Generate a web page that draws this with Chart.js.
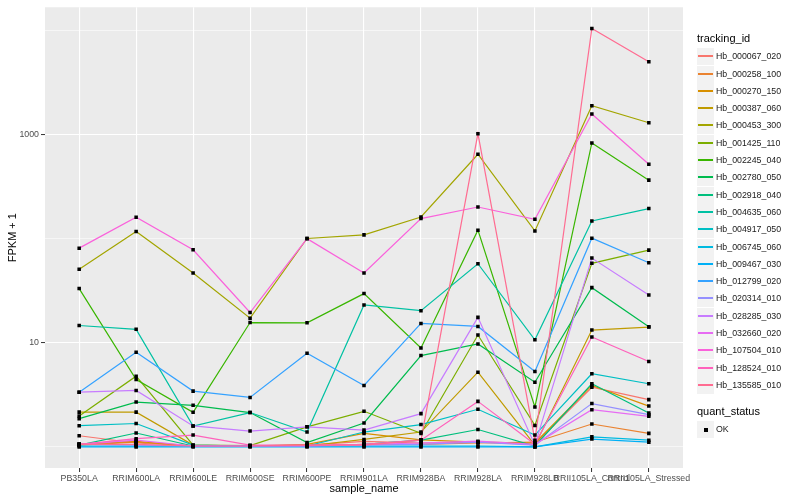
<!DOCTYPE html>
<html>
<head>
<meta charset="utf-8">
<script src="https://cdn.jsdelivr.net/npm/chart.js@4.4.0/dist/chart.umd.min.js"></script>
<style>
  body { margin: 0; background: #fff; }
  #wrap { position: relative; width: 800px; height: 500px; font-family: "Liberation Sans", Arial, sans-serif; }
  .ltitle { position: absolute; left: 697px; font-size: 11px; line-height: 13px; color: #000; white-space: nowrap; }
  .key { position: absolute; left: 697px; width: 17px; height: 17px; background: #F2F2F2; }
  .key i { position: absolute; left: 1px; width: 15px; top: 7px; height: 2px; }
  .key b { position: absolute; left: 7px; top: 7px; width: 4px; height: 4px; background: #000; }
  .lab { position: absolute; left: 716px; font-size: 8.8px; line-height: 11px; color: #1A1A1A; white-space: nowrap; }
</style>
</head>
<body>
<div id="wrap">
  <canvas id="chart" width="800" height="500"></canvas>
  <div id="legend"></div>
</div>
<script>
// categories on the x axis
var samples = ["PB350LA", "RRIM600LA", "RRIM600LE", "RRIM600SE", "RRIM600PE", "RRIM901LA",
               "RRIM928BA", "RRIM928LA", "RRIM928LB", "RRII105LA_Control", "RRII105LA_Stressed"];

var trackingIds = ["Hb_000067_020", "Hb_000258_100", "Hb_000270_150", "Hb_000387_060", "Hb_000453_300",
                   "Hb_001425_110", "Hb_002245_040", "Hb_002780_050", "Hb_002918_040", "Hb_004635_060",
                   "Hb_004917_050", "Hb_006745_060", "Hb_009467_030", "Hb_012799_020", "Hb_020314_010",
                   "Hb_028285_030", "Hb_032660_020", "Hb_107504_010", "Hb_128524_010", "Hb_135585_010"];

// ggplot default hue palette, 20 levels
var seriesColors = ["#F8766D", "#EA8331", "#D89000", "#C09B00", "#A3A500", "#7CAE00", "#39B600", "#00BB4E",
                    "#00BF7D", "#00C1A3", "#00BFC4", "#00BAE0", "#00B0F6", "#35A2FF", "#9590FF", "#C77CFF",
                    "#E76BF3", "#FA62DB", "#FF62BC", "#FF6C91"];

// FPKM + 1 per sample
var hb_000067_020 = [1.28, 1.09, 1.02, 1.02, 1.04, 1.13, 1.09, 1.11, 1.06, 3.75, 2.85];
var hb_000258_100 = [1.04, 1.11, 1.02, 1.02, 1.02, 1.06, 1.06, 1.09, 1.11, 1.66, 1.35];
var hb_000270_150 = [1.06, 1.13, 1.02, 1.02, 1.06, 1.35, 1.17, 1.11, 1.09, 3.9, 2.47];
var hb_000387_060 = [2.16, 2.16, 1.04, 1.02, 1.02, 1.18, 1.39, 5.23, 1.04, 13.3, 14.2];
var hb_000453_300 = [51.0, 117.8, 47.0, 17.3, 101.0, 109.3, 162.6, 651.5, 119.4, 1905, 1310];
var hb_001425_110 = [1.98, 4.79, 1.04, 1.03, 1.56, 2.2, 1.35, 11.9, 1.61, 58.2, 78.0];
var hb_002245_040 = [33.3, 4.45, 2.15, 15.7, 15.6, 29.8, 8.95, 121.3, 2.42, 837.5, 367.4];
var hb_002780_050 = [1.87, 2.7, 2.51, 2.14, 1.1, 1.7, 7.55, 9.77, 4.19, 34.0, 14.3];
var hb_002918_040 = [1.04, 1.36, 1.02, 1.02, 1.02, 1.06, 1.16, 1.47, 1.02, 4.05, 2.12];
var hb_004635_060 = [14.7, 13.5, 1.59, 2.14, 1.39, 23.2, 20.4, 57.7, 10.7, 148.8, 195.6];
var hb_004917_050 = [1.6, 1.68, 1.04, 1.02, 1.02, 1.39, 1.64, 2.3, 1.3, 5.05, 4.05];
var hb_006745_060 = [1.02, 1.02, 1.02, 1.02, 1.02, 1.02, 1.02, 1.02, 1.0, 1.25, 1.16];
var hb_009467_030 = [1.0, 1.0, 1.0, 1.0, 1.0, 1.0, 1.0, 1.0, 1.0, 1.19, 1.11];
var hb_012799_020 = [3.36, 8.12, 3.44, 2.99, 7.94, 3.9, 15.4, 14.4, 5.31, 101.7, 59.0];
var hb_020314_010 = [1.06, 1.04, 1.02, 1.02, 1.02, 1.04, 1.06, 1.11, 1.04, 2.61, 2.04];
var hb_028285_030 = [3.36, 3.49, 1.59, 1.42, 1.56, 1.45, 2.09, 17.6, 1.04, 65.4, 28.9];
var hb_032660_020 = [1.06, 1.16, 1.02, 1.02, 1.02, 1.06, 1.09, 1.135, 1.06, 2.28, 1.97];
var hb_107504_010 = [81.5, 161.5, 78.6, 19.6, 100.6, 47.0, 156.9, 202.6, 154.5, 1587, 522.6];
var hb_128524_010 = [1.06, 1.2, 1.3, 1.04, 1.04, 1.06, 1.16, 2.74, 1.06, 11.4, 6.62];
var hb_135585_010 = [1.06, 1.06, 1.02, 1.02, 1.04, 1.04, 1.16, 1028, 1.16, 10557, 5055];

var seriesValues = [hb_000067_020, hb_000258_100, hb_000270_150, hb_000387_060, hb_000453_300,
                    hb_001425_110, hb_002245_040, hb_002780_050, hb_002918_040, hb_004635_060,
                    hb_004917_050, hb_006745_060, hb_009467_030, hb_012799_020, hb_020314_010,
                    hb_028285_030, hb_032660_020, hb_107504_010, hb_128524_010, hb_135585_010];

// y gridlines (10 and 1000 are the labelled ones)
var yGridValues = [1, 10, 100, 1000, 10000];
var yLabelled = [10, 1000];

var datasets = [];
var allPoints = [];
for (var s = 0; s < seriesValues.length; s++) {
  var pts = [];
  for (var i = 0; i < samples.length; i++) {
    pts.push({ x: i, y: seriesValues[s][i] });
    allPoints.push({ x: i, y: seriesValues[s][i] });
  }
  datasets.push({
    label: trackingIds[s],
    data: pts,
    borderColor: seriesColors[s],
    borderWidth: 1.2,
    pointRadius: 0,
    fill: false,
    tension: 0,
    order: seriesValues.length - s
  });
}
// points on top of every line, like geom_point after geom_line
datasets.push({
  type: "scatter",
  label: "OK",
  data: allPoints,
  pointStyle: "rect",
  pointRadius: 2.5,
  backgroundColor: "#000",
  borderWidth: 0,
  order: -1
});

var panelBg = {
  id: "panelBg",
  beforeDraw: function(chart) {
    var a = chart.chartArea, c = chart.ctx;
    c.save();
    c.fillStyle = "#EBEBEB";
    c.fillRect(a.left, a.top, a.right - a.left, a.bottom - a.top);
    c.restore();
  }
};

var isMajor = function(ctx) { return ctx.tick && yLabelled.indexOf(ctx.tick.value) >= 0; };

new Chart(document.getElementById("chart"), {
  type: "line",
  data: { datasets: datasets },
  plugins: [panelBg],
  options: {
    responsive: false,
    animation: false,
    layout: { padding: { left: 0, right: 117, top: 5, bottom: 0 } },
    plugins: { legend: { display: false }, tooltip: { enabled: false } },
    scales: {
      x: {
        type: "linear",
        bounds: "data",
        min: -0.6,
        max: 10.6,
        afterBuildTicks: function(scale) {
          scale.ticks = samples.map(function(_, i) { return { value: i }; });
        },
        afterFit: function(scale) { scale.height = 32; },
        ticks: {
          autoSkip: false, maxRotation: 0, minRotation: 0, padding: 1,
          color: "#4D4D4D", font: { family: "Liberation Sans", size: 8.8 },
          callback: function(v) { return samples[v]; }
        },
        grid: { color: "#FFFFFF", lineWidth: 1.1, tickColor: "#333333", tickLength: 4, tickWidth: 1 },
        border: { display: false },
        title: { display: true, text: "sample_name", color: "#000", font: { family: "Liberation Sans", size: 11 }, padding: { top: 0, bottom: 4.5 } }
      },
      y: {
        type: "logarithmic",
        bounds: "data",
        min: 0.627,
        max: 16870,
        afterBuildTicks: function(scale) {
          scale.ticks = yGridValues.map(function(v) { return { value: v }; });
        },
        afterFit: function(scale) { scale.width = 45; },
        ticks: {
          padding: 2, color: "#4D4D4D", font: { family: "Liberation Sans", size: 8.8 },
          callback: function(v) { return yLabelled.indexOf(v) >= 0 ? String(v) : ""; }
        },
        grid: {
          color: "#FFFFFF",
          lineWidth: function(ctx) { return isMajor(ctx) ? 1.1 : 0.55; },
          tickColor: function(ctx) { return isMajor(ctx) ? "#333333" : "rgba(0,0,0,0)"; },
          tickLength: 4, tickWidth: 1
        },
        border: { display: false },
        title: { display: true, text: "FPKM + 1", color: "#000", font: { family: "Liberation Sans", size: 11 }, padding: { top: 6.5, bottom: 0 } }
      }
    }
  }
});

// ggplot style legend on the right
var legendBox = document.getElementById("legend");
var html = '<div class="ltitle" style="top:32px">tracking_id</div>';
for (var k = 0; k < trackingIds.length; k++) {
  var keyTop = Math.round(56.7 + 17.3 * k - 8.5);
  html += '<div class="key" style="top:' + keyTop + 'px"><i style="background:' + seriesColors[k] + '"></i></div>';
  html += '<div class="lab" style="top:' + (keyTop + 3) + 'px">' + trackingIds[k] + '</div>';
}
html += '<div class="ltitle" style="top:405px">quant_status</div>';
html += '<div class="key" style="top:421px"><b></b></div>';
html += '<div class="lab" style="top:424px">OK</div>';
legendBox.innerHTML = html;
</script>
</body>
</html>
